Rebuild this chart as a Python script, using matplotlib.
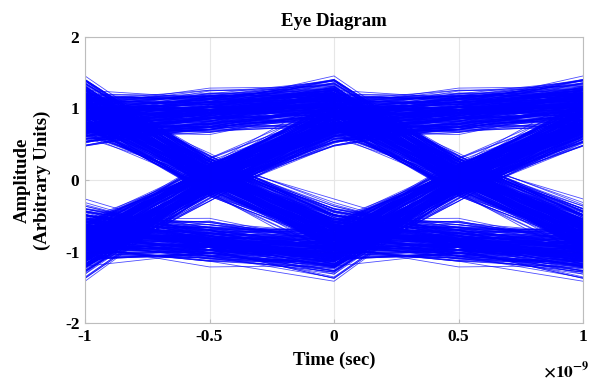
import numpy as np
import matplotlib
matplotlib.use('Agg')
from matplotlib import pyplot as plt
from matplotlib.ticker import FuncFormatter

plt.rcParams['font.family'] = ['Liberation Serif', 'DejaVu Serif']
plt.rcParams['font.weight'] = 'bold'
plt.rcParams['mathtext.fontset'] = 'stix'
plt.rcParams['axes.unicode_minus'] = False

# transmitted bits (hex), 2 samples per 1 ns symbol
bits_hex = ("9f3a6c1e52b8d47a0e6c93f51b28d7c4a6e0f392d85b1c7e4a093f6d2b85e17c"
            "3d9a4f60b2e8175cd3a96f042be8d15a7c3f96e20b4d8a51f7c26e9304db8a6f"
            "e4716b2d9c03af58d2e691b74c0f3a85b6d2e8193f7a04c5e92b6d1873af0c4e"
            "58b1d3e7a2640fc9b75e1d28a4c36f0b97e2d5184ac3b60f29e7d513b8a4c06d")
samples_per_symbol = 2
symbol_period = 1e-9
dc_offset = 0.04

# channel pulse response at offsets -8 .. +8 symbols, half-symbol steps
pulse = [0.02, -0.02, -0.025, 0.015, 0.025, -0.02, -0.02, 0.02,
         0.025, -0.015, -0.025, 0.02, -0.04, -0.06, -0.10, 0.44,
         0.90,
         0.48, 0.15, 0.10, 0.07, 0.04, 0.03, -0.02, 0.025,
         0.02, -0.025, 0.02, 0.02, -0.02, 0.025, 0.015, -0.02]

bits = ''.join(format(int(c, 16), '04b') for c in bits_hex)
symbols = np.array([1.0 if b == '1' else -1.0 for b in bits])

mid = len(pulse) // 2
up = np.zeros(len(symbols) * samples_per_symbol)
up[::samples_per_symbol] = symbols
signal = np.convolve(up, pulse)[mid:mid + len(up)] + dc_offset

t = np.arange(-samples_per_symbol, samples_per_symbol + 1) / samples_per_symbol * symbol_period
traces = []
for k in range(9, len(symbols) - 9):
    c = k * samples_per_symbol
    traces.append(signal[c - samples_per_symbol:c + samples_per_symbol + 1])
traces = np.array(traces)

fig = plt.figure(figsize=(5.92, 3.81), dpi=100)
ax = fig.add_axes([0.1436, 0.152, 0.8414, 0.751])
ax.plot(t, traces.T, color=(0, 0, 1), linewidth=0.6, alpha=0.7)

ax.set_xlim(-symbol_period, symbol_period)
ax.set_ylim(-2, 2)
ax.set_xticks([-1e-9, -0.5e-9, 0, 0.5e-9, 1e-9])
ax.set_yticks([-2, -1, 0, 1, 2])
ax.xaxis.set_major_formatter(FuncFormatter(lambda v, p: '%g' % round(v / 1e-9, 3)))
ax.grid(True, color='#e6e6e6', linewidth=0.8)
ax.set_axisbelow(True)
for s in ax.spines.values():
    s.set_color('#bdbdbd')
ax.tick_params(direction='in', length=3, color='#bdbdbd', labelsize=12.5, pad=4)
for lab in ax.get_xticklabels() + ax.get_yticklabels():
    lab.set_fontweight('bold')

fig.text(0.997, 0.0, r'$\times 10^{-9}$', ha='right', va='bottom', fontsize=12.5)

ax.set_title('Eye Diagram', fontsize=13.5, fontweight='bold', pad=8)
ax.set_xlabel('Time (sec)', fontsize=13.5, fontweight='bold', labelpad=5)
ax.set_ylabel('Amplitude\n(Arbitrary Units)', fontsize=13.5, fontweight='bold', labelpad=10)

fig.savefig('out.png', dpi=100)
